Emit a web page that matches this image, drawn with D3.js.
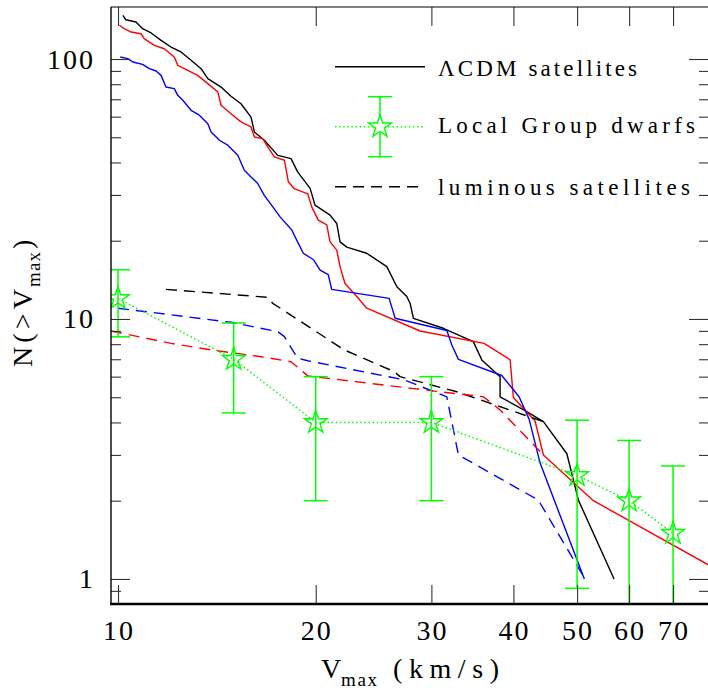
<!DOCTYPE html>
<html><head><meta charset="utf-8">
<script src="https://cdn.jsdelivr.net/npm/d3@7"></script>
<style>body{margin:0;background:#fff}svg{display:block}
svg text{font-family:'Liberation Serif','DejaVu Serif',serif;}</style>
</head><body>
<svg id="c" width="708" height="688"></svg>
<script>
// ---- data ----
const blackSolidV=[10.17,10.28,10.65,10.90,11.23,11.63,12.04,12.47,12.92,13.38,13.70,14.35,14.86,15.39,15.94,16.13,16.70,17.51,18.34,18.77,19.61,19.95,21.03,21.53,21.78,22.30,23.91,25.66,26.58,27.52,27.84,28.17,31.29,34.75,35.80,38.17,38.17,41.92,44.43,48.24,50.23,56.92];
const blackSolidN=[147.2,141.6,138.8,130.8,125.9,118.0,111.2,106.4,98.9,91.8,84.0,78.0,71.9,67.3,59.8,52.4,48.7,42.6,41.4,36.8,31.8,27.4,25.1,23.3,19.8,18.9,17.9,15.9,13.3,12.2,11.5,10.06,9.21,8.18,6.96,6.0,5.02,4.40,4.03,3.03,2.01,1.0];
const redSolidV=[10.05,10.22,10.47,10.84,10.96,11.36,11.76,12.18,12.33,12.77,13.22,13.70,14.19,14.35,14.86,15.39,15.94,16.13,16.61,16.90,17.30,17.92,18.17,18.55,19.45,19.72,20.18,20.79,21.03,21.53,21.78,22.16,23.10,23.91,28.84,36.09,39.54,39.99,43.15,44.43,52.94,79.4];
const redSolidN=[134.8,130.8,127.0,125.1,119.7,112.9,109.5,101.8,94.6,90.4,86.5,80.4,74.7,66.4,61.6,57.3,54.8,50.1,49.4,45.9,42.0,40.8,33.7,31.7,30.3,27.0,24.0,23.0,19.8,18.4,15.9,13.7,12.2,11.0,8.99,8.06,6.97,4.99,4.05,3.0,2.0,1.13];
const blueSolidV=[10.08,10.35,10.53,10.90,11.16,11.43,11.63,11.83,12.18,12.33,12.55,12.92,13.30,13.70,13.86,14.27,14.69,15.22,15.57,15.94,16.32,16.70,17.04,17.65,18.39,18.71,19.15,19.84,20.31,20.90,21.15,25.87,26.42,31.67,32.23,32.98,38.40,40.8,42.26,43.92,51.29];
const blueSolidN=[101.8,100.3,97.4,95.4,91.8,89.9,86.5,78.0,76.9,72.5,69.4,63.5,60.8,56.4,52.4,48.7,46.6,42.6,37.3,35.2,33.2,29.9,27.9,24.7,22.0,20.1,17.9,16.9,15.4,14.8,13.0,12.0,10.06,9.03,7.94,6.99,6.06,5.02,4.12,2.79,1.0];

const blackDashV=[11.83,16.90,17.20,22.11,26.34,26.88,32.80,44.43];
const blackDashN=[13.0,12.12,11.49,7.60,6.27,6.0,5.25,4.03];
const blueDashV=[10.0,14.86,17.51,17.92,18.77,19.45,27.29,31.67,32.98,43.65,51.40];
const blueDashN=[11.0,9.71,8.94,8.55,7.06,6.91,5.83,5.02,3.0,2.01,1.0];
const redDashV=[9.757,12.04,13.86,16.51,18.34,19.45,27.94,36.0,38.17,43.92];
const redDashN=[8.99,8.06,7.60,7.16,6.85,6.04,5.41,5.02,4.47,3.09];

const lgV=[10,15,20,30,50,60,70];
const lgN=[12,7,4,4,2.5,2,1.5];
const lgErr=[3.46,2.65,2,2,1.58,1.41,1.22];

const xTicks=[10,20,30,40,50,60,70];
const yMajor=[1,10,100];
const yMinor=[0.9,2,3,4,5,6,7,8,9,20,30,40,50,60,70,80,90];
const legendLabels=["\u039BCDM satellites","Local Group dwarfs","luminous satellites"];

// ---- layout ----
const L=111,T=7,R=709,B=604;
const FONT="'Liberation Serif','DejaVu Serif',serif";
const svg=d3.select("#c");
const x=d3.scaleLog().domain([9.757,79.4]).range([L,R]);
const y=d3.scaleLog().domain([0.801,158.5]).range([B,T]);

svg.append("defs").append("clipPath").attr("id","clip")
  .append("rect").attr("x",L).attr("y",T).attr("width",R-L).attr("height",B-T);
const plot=svg.append("g").attr("clip-path","url(#clip)");

const line=d3.line().x(d=>x(d[0])).y(d=>y(d[1]));
const zip=(a,b)=>a.map((v,i)=>[v,b[i]]);

function drawLine(V,N,color,dash,w){
  plot.append("path").attr("d",line(zip(V,N))).attr("fill","none")
    .attr("stroke",color).attr("stroke-width",w||1.4)
    .attr("stroke-dasharray",dash||null).attr("stroke-linejoin","round");
}
drawLine(blackSolidV,blackSolidN,"#000");
drawLine(redSolidV,redSolidN,"#ff0000");
drawLine(blueSolidV,blueSolidN,"#0000ff");
drawLine(blackDashV,blackDashN,"#000","11,7");
drawLine(blueDashV,blueDashN,"#0000ff","11,7");
drawLine(redDashV,redDashN,"#ff0000","11,7");

// green dotted + error bars + stars
const G="#00ff00";
drawLine(lgV,lgN,G,"1.5,2.6",1.5);
const star=d3.symbol().type(d3.symbolStar).size(162);
lgV.forEach((v,i)=>{
  const cx=x(v), lo=Math.max(lgN[i]-lgErr[i],0.01), hi=lgN[i]+lgErr[i];
  plot.append("line").attr("x1",cx).attr("x2",cx).attr("y1",y(lo)).attr("y2",y(hi))
    .attr("stroke",G).attr("stroke-width",1.5);
  [lo,hi].forEach(e=>plot.append("line").attr("x1",cx-12).attr("x2",cx+12)
    .attr("y1",y(e)).attr("y2",y(e)).attr("stroke",G).attr("stroke-width",1.5));
  plot.append("path").attr("d",star()).attr("transform",`translate(${cx},${y(lgN[i])})`)
    .attr("fill","none").attr("stroke",G).attr("stroke-width",1.4);
});

// ---- axes (ticks inward on all sides) ----
const tk="#333";
function styleAxis(g){g.select(".domain").remove();g.attr("font-family",null).attr("font-size",null);g.selectAll("line").attr("stroke",tk).attr("stroke-width",1.1);g.selectAll("text").remove();}
svg.append("g").attr("transform",`translate(0,${B})`).call(d3.axisBottom(x).tickValues(xTicks).tickSize(-19)).call(styleAxis);
svg.append("g").attr("transform",`translate(0,${T})`).call(d3.axisTop(x).tickValues(xTicks).tickSize(-19)).call(styleAxis);
svg.append("g").attr("transform",`translate(${L},0)`).call(d3.axisLeft(y).tickValues(yMajor).tickSize(-19)).call(styleAxis);
svg.append("g").attr("transform",`translate(${L},0)`).call(d3.axisLeft(y).tickValues(yMinor).tickSize(-10)).call(styleAxis);
svg.append("g").attr("transform",`translate(708,0)`).call(d3.axisRight(y).tickValues(yMajor).tickSize(-19)).call(styleAxis);
svg.append("g").attr("transform",`translate(708,0)`).call(d3.axisRight(y).tickValues(yMinor).tickSize(-9)).call(styleAxis);

// frame
svg.append("line").attr("x1",L).attr("x2",708).attr("y1",T).attr("y2",T).attr("stroke","#000").attr("stroke-width",1.2);
svg.append("line").attr("x1",L).attr("x2",L).attr("y1",T).attr("y2",B).attr("stroke","#000").attr("stroke-width",1.4);
svg.append("line").attr("x1",L-1).attr("x2",708).attr("y1",B).attr("y2",B).attr("stroke","#000").attr("stroke-width",2.4);

// tick labels
const labs=svg.append("g");
labs.selectAll("text.xl").data(xTicks).join("text").attr("class","xl")
  .attr("x",d=>x(d)+1).attr("y",640).attr("text-anchor","middle")
  .style("font-family",FONT).style("font-size","28px").attr("letter-spacing",2)
  .text(d=>d);
labs.selectAll("text.yl").data(yMajor).join("text").attr("class","yl")
  .attr("x",95).attr("y",d=>y(d)).attr("dy","0.34em").attr("text-anchor","end")
  .style("font-family",FONT).style("font-size","28px").attr("letter-spacing",2)
  .text(d=>d);

// axis titles
function txt(g,t,xx,yy,fs,len){
  const e=g.append("text").attr("x",xx).attr("y",yy).style("font-family",FONT).style("font-size",fs+"px").attr("fill","#000").text(t);
  if(len) e.attr("textLength",len).attr("lengthAdjust","spacing");
  return e;
}
const xt=svg.append("g");
txt(xt,"V",321,678,28);
txt(xt,"max",341,685.5,19,36);
txt(xt,"(km/s)",393,678,28,106);

const yt=svg.append("g").attr("transform","translate(32,367) rotate(-90)");
txt(yt,"N(>V",0,0,28,78);
txt(yt,"max",80,8,19,35);
txt(yt,")",118,0,28);

// legend
const lg=svg.append("g");
lg.append("line").attr("x1",335).attr("x2",425).attr("y1",66.7).attr("y2",66.7).attr("stroke","#000").attr("stroke-width",1.4);
lg.append("line").attr("x1",335).attr("x2",425).attr("y1",126.7).attr("y2",126.7).attr("stroke",G).attr("stroke-width",1.5).attr("stroke-dasharray","1.5,2.6");
lg.append("line").attr("x1",380).attr("x2",380).attr("y1",96.7).attr("y2",156.7).attr("stroke",G).attr("stroke-width",1.5);
[96.7,156.7].forEach(v=>lg.append("line").attr("x1",368).attr("x2",392).attr("y1",v).attr("y2",v).attr("stroke",G).attr("stroke-width",1.5));
lg.append("path").attr("d",star()).attr("transform","translate(380,126.7)").attr("fill","#fff").attr("stroke",G).attr("stroke-width",1.4);
lg.append("line").attr("x1",335).attr("x2",419).attr("y1",186.7).attr("y2",186.7).attr("stroke","#000").attr("stroke-width",1.4).attr("stroke-dasharray","11,7");
const lgY=[76,133,195], lgW=[199,257,252];
legendLabels.forEach((t,i)=>txt(lg,t,438,lgY[i],23,lgW[i]));
</script>
</body></html>
